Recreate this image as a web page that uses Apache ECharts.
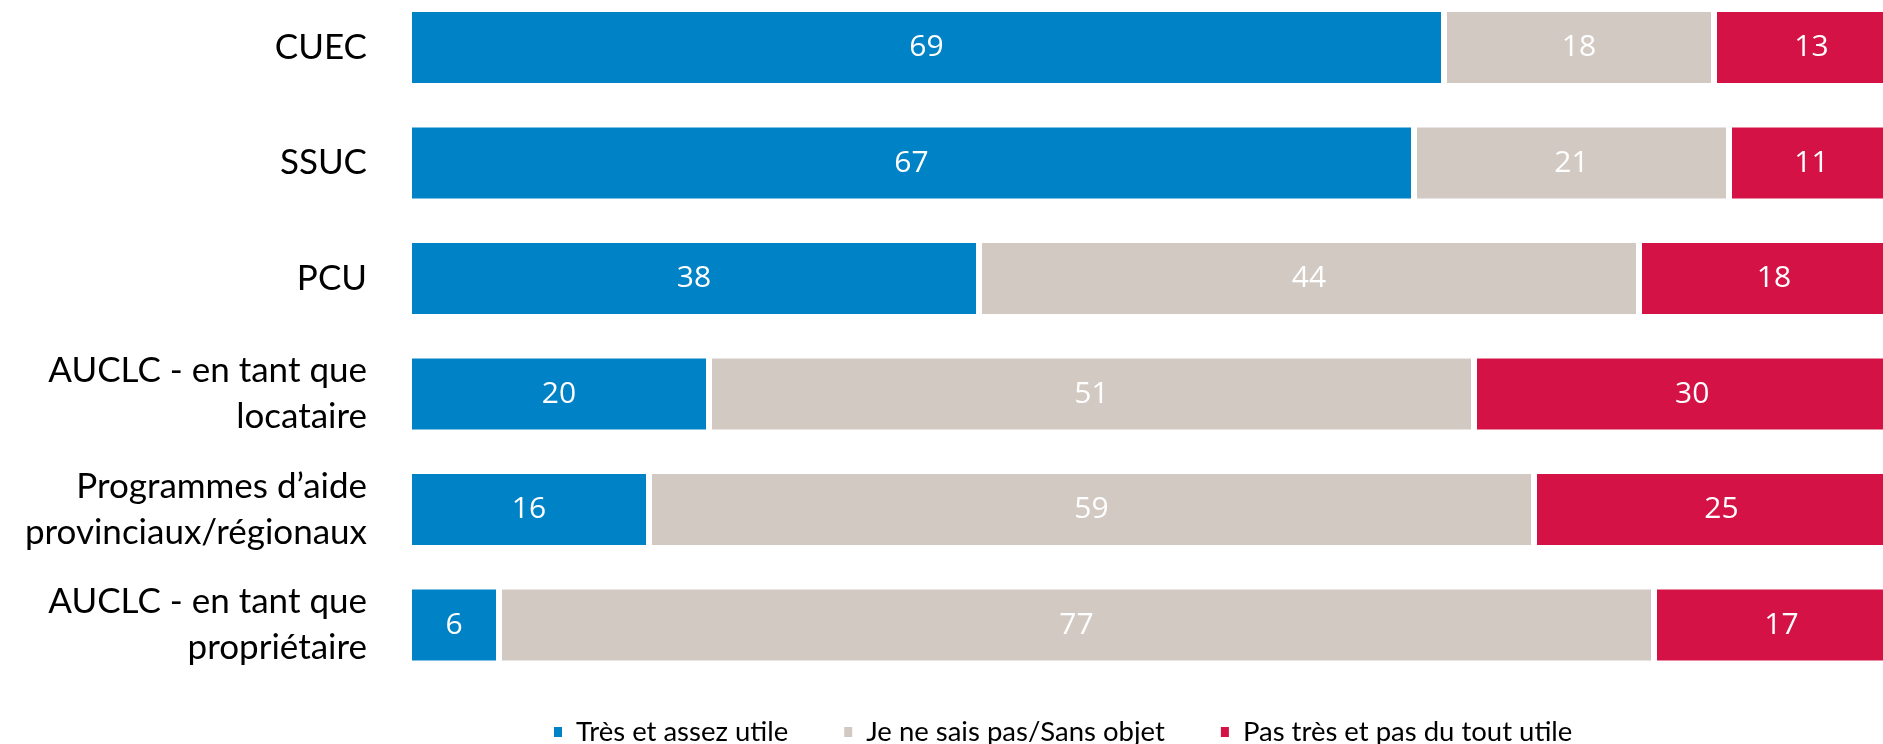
<!DOCTYPE html>
<html>
<head>
<meta charset="utf-8">
<script src="https://cdn.jsdelivr.net/npm/echarts@6/dist/echarts.min.js"></script>
<style>
  html, body { margin: 0; padding: 0; background: #fff; }
  #chart { width: 1883px; height: 744px; }
</style>
</head>
<body>
<div id="chart"></div>
<script>
// Categories, top to bottom
const categories = [
    'CUEC',
    'SSUC',
    'PCU',
    'AUCLC - en tant que\nlocataire',
    'Programmes d\u2019aide\nprovinciaux/régionaux',
    'AUCLC - en tant que\npropriétaire'
];

// Series values (%)
const tresUtile = [69, 67, 38, 20, 16, 6];
const neSaisPas = [18, 21, 44, 51, 59, 77];
const pasUtile = [13, 11, 18, 30, 25, 17];

const seriesNames = ['Très et assez utile', 'Je ne sais pas/Sans objet', 'Pas très et pas du tout utile'];
const colors = ['#0082C6', '#D2C9C3', '#D41245'];

const font = 'Lato';

function makeSeries(name, values, color) {
    return {
        name: name,
        type: 'bar',
        stack: 'total',
        barWidth: 77,
        data: values,
        // white border gives the thin gap between segments
        itemStyle: { color: color, borderColor: '#fff', borderWidth: 3 },
        label: {
            show: true,
            position: 'inside',
            color: '#fff',
            fontFamily: 'Open Sans',
            fontSize: 30
        }
    };
}

var chart = echarts.init(document.getElementById('chart'));

const option = {
    animation: false,
    color: colors,
    grid: {
        left: 409,
        top: -10.25,
        width: 1500,
        height: 693,
        outerBoundsMode: 'none'   // let the last bar run past the right edge
    },
    legend: {
        data: seriesNames,
        left: 547,
        top: 713,
        icon: 'rect',
        itemWidth: 10,
        itemHeight: 12,
        itemGap: 54,
        textStyle: {
            fontFamily: font,
            fontSize: 27.5,
            color: '#000',
            padding: [0, 0, 0, 8]
        }
    },
    xAxis: {
        type: 'value',
        min: 0,
        max: 100,
        show: false
    },
    yAxis: {
        type: 'category',
        inverse: true,
        data: categories,
        axisLine: { show: false },
        axisTick: { show: false },
        axisLabel: {
            margin: 42,
            color: '#000',
            fontFamily: font,
            fontSize: 35,
            lineHeight: 46
        }
    },
    series: [
        makeSeries(seriesNames[0], tresUtile, colors[0]),
        makeSeries(seriesNames[1], neSaisPas, colors[1]),
        makeSeries(seriesNames[2], pasUtile, colors[2])
    ]
};

chart.setOption(option);
</script>
</body>
</html>
